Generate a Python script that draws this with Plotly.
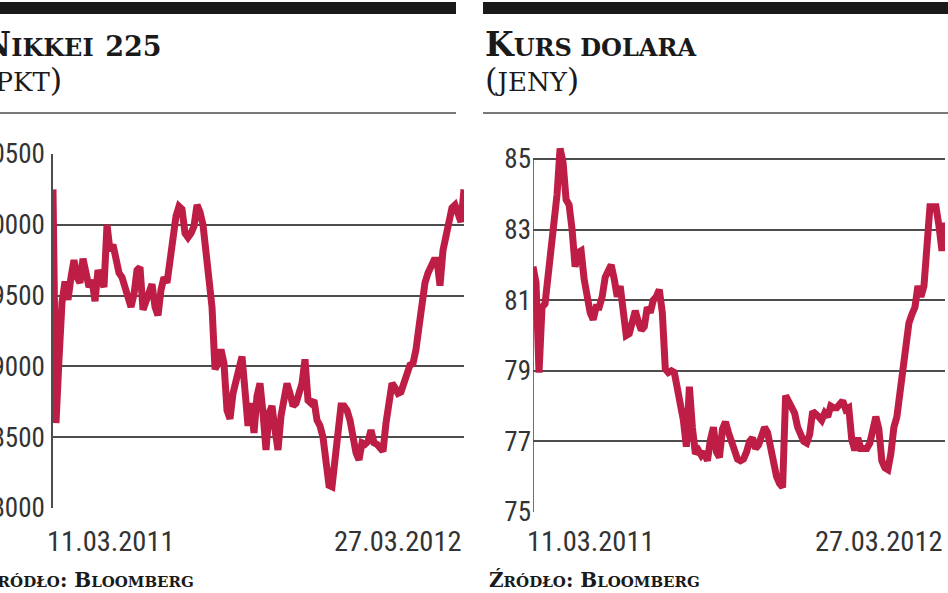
import pandas as pd
import plotly.graph_objects as go

start_label = "11.03.2011"
end_label = "27.03.2012"

nikkei = [
    10250, 8600, 9050, 9450, 9600, 9470, 9630, 9750, 9630, 9590,
    9760, 9680, 9560, 9610, 9460, 9680, 9630, 9560, 10000, 9820,
    9860, 9750, 9660, 9630, 9560, 9470, 9420, 9510, 9680, 9700,
    9400, 9460, 9540, 9580, 9420, 9360, 9540, 9630, 9590, 9780,
    9890, 10060, 10130, 10110, 9940, 9910,
    9940, 9990, 10140, 10090, 10000, 9820, 9630, 9420, 8980, 9020,
    9120, 9020, 8690, 8630, 8810, 8900, 9020, 9070, 8830, 8580,
    8740, 8530, 8790, 8880, 8670, 8410, 8670, 8720, 8550, 8410,
    8650, 8790, 8880, 8810, 8720, 8740, 8830, 8880, 9050, 8760,
    8740, 8760, 8620, 8580, 8500, 8320, 8160,
    8150, 8360, 8600, 8720, 8720, 8690, 8620, 8500, 8390, 8340,
    8460, 8450, 8470, 8550, 8460, 8450, 8430, 8400, 8600, 8760,
    8880, 8850, 8810, 8820, 8880, 8950, 9010, 9020, 9120, 9280,
    9470, 9590, 9660, 9700, 9750, 9750, 9570, 9820, 9930, 9990,
    10120, 10140, 10080, 10020, 10250,
]

usdjpy = [
    81.95, 81.5, 78.95, 80.8, 80.9, 81.6, 82.7, 83.2, 84.0, 85.3,
    84.9, 83.85, 83.7, 83.0, 81.95, 82.35, 82.4, 81.6, 81.1, 80.65,
    80.45, 80.8, 80.8, 81.1, 81.65, 81.85, 82.0, 81.6, 81.1, 81.4,
    80.55, 80.0, 80.05, 80.3, 80.7, 80.4, 80.15, 80.25, 80.8, 80.65,
    81.0, 81.1, 81.3, 80.65, 79.05, 78.95,
    79.0, 78.95, 78.5, 78.05, 77.6, 76.85, 78.55, 77.4, 76.65, 76.75,
    76.6, 76.7, 76.45, 77.05, 77.4, 76.7, 76.55, 77.35, 77.55, 77.25,
    76.95, 76.7, 76.5, 76.45, 76.5, 76.7, 77.0, 77.1, 76.8, 76.9,
    77.2, 77.4, 77.25, 76.75, 76.35, 76.0, 75.8, 75.7, 78.3, 78.15,
    78.05, 77.8, 77.4, 77.15, 77.0, 76.95,
    77.2, 77.85, 77.8, 77.7, 77.6, 77.8, 77.7, 78.0, 77.95, 77.95,
    78.05, 78.15, 77.9, 77.95, 77.05, 76.75, 77.1, 76.8, 76.8, 76.8,
    76.95, 77.35, 77.7, 77.35, 76.45, 76.25, 76.2, 76.65, 77.4, 77.7,
    78.35, 79.25, 79.9, 80.35, 80.6, 80.8, 81.4, 81.1, 81.4, 82.5,
    83.65, 83.65, 83.65, 83.1, 82.4, 83.2,
]

nikkei_ticks = [8000, 8500, 9000, 9500, 10000, 10500]
usd_ticks = [75, 77, 79, 81, 83, 85]

dates = pd.date_range("2011-03-11", "2012-03-27", periods=len(nikkei))

W, H = 948, 593
def px(x):
    return x / W
def py(y):
    return 1 - y / H

LINE = "#BE1E45"
GRID = "#4d4d4d"
NARROW = "Liberation Sans Narrow, Roboto Condensed, Roboto, sans-serif"
TICKFONT = dict(family=NARROW, size=27, color="#333333")
SERIF = "DejaVu Serif, serif"

fig = go.Figure()
fig.add_trace(go.Scatter(x=dates, y=nikkei, mode="lines", xaxis="x", yaxis="y",
                         line=dict(color=LINE, width=7), showlegend=False, hoverinfo="skip"))
fig.add_trace(go.Scatter(x=dates, y=usdjpy, mode="lines", xaxis="x2", yaxis="y2",
                         line=dict(color=LINE, width=7), showlegend=False, hoverinfo="skip"))

xcommon = dict(showgrid=False, showticklabels=False, zeroline=False, showline=False, ticks="",
               automargin=False)
ycommon = dict(showgrid=True, gridcolor=GRID, gridwidth=1.6, zeroline=False,
               ticks="", tickfont=TICKFONT, ticklabelstandoff=1, automargin=False)

usd_px_per_unit = (512 - 159) / 10
usd_top = 85.5
fig.update_layout(
    template="none",
    width=W, height=H,
    margin=dict(l=0, r=0, t=0, b=0, pad=0, autoexpand=False),
    paper_bgcolor="white", plot_bgcolor="white",
    xaxis=dict(domain=[px(53), px(464)], range=[dates[0], dates[-1]], anchor="y", **xcommon),
    yaxis=dict(domain=[py(508), py(154)], range=[8000, 10500], tickvals=nikkei_ticks,
               ticktext=[str(v) for v in nikkei_ticks], anchor="x", showline=True,
               linecolor=GRID, linewidth=1.6, **ycommon),
    xaxis2=dict(domain=[px(533), px(945)], range=[dates[0], dates[-1]], anchor="y2", **xcommon),
    yaxis2=dict(domain=[py(512), py(159 - (usd_top - 85) * usd_px_per_unit)], range=[75, usd_top],
                tickvals=usd_ticks, ticktext=[str(v) for v in usd_ticks], anchor="x2",
                showline=False, **ycommon),
)

shapes = []
shapes.append(dict(type="rect", xref="paper", yref="paper", x0=px(-5), x1=px(456), y0=py(14), y1=py(2),
                   fillcolor="#1a1a1a", line=dict(width=0)))
shapes.append(dict(type="rect", xref="paper", yref="paper", x0=px(483), x1=px(953), y0=py(14), y1=py(2),
                   fillcolor="#1a1a1a", line=dict(width=0)))
shapes.append(dict(type="line", xref="paper", yref="paper", x0=px(-5), x1=px(456), y0=py(113), y1=py(113),
                   line=dict(color=GRID, width=1.6)))
shapes.append(dict(type="line", xref="paper", yref="paper", x0=px(483), x1=px(953), y0=py(113), y1=py(113),
                   line=dict(color=GRID, width=1.6)))
shapes.append(dict(type="line", xref="x2", yref="y2", x0=dates[0], x1=dates[0], y0=usd_ticks[0], y1=usd_ticks[-1],
                   line=dict(color=GRID, width=1.6), layer="below"))
fig.update_layout(shapes=shapes)

ann = []
ann.append(dict(xref="paper", yref="paper", x=px(-21), y=py(44), xanchor="left", yanchor="middle",
                text="<b>N<span style='font-size:24px'>IKKEI</span> <span style='font-size:27px'>225</span></b>",
                showarrow=False, font=dict(family=SERIF, size=33, color="#1a1a1a")))
ann.append(dict(xref="paper", yref="paper", x=px(-19), y=py(80), xanchor="left", yanchor="middle",
                text="(<span style='font-size:26px'>PKT</span>)", showarrow=False,
                font=dict(family=SERIF, size=32, color="#1a1a1a")))
ann.append(dict(xref="paper", yref="paper", x=px(483), y=py(44), xanchor="left", yanchor="middle",
                text="<b>K<span style='font-size:24px'>URS DOLARA</span></b>", showarrow=False,
                font=dict(family=SERIF, size=33, color="#1a1a1a")))
ann.append(dict(xref="paper", yref="paper", x=px(483), y=py(80), xanchor="left", yanchor="middle",
                text="(<span style='font-size:26px'>JENY</span>)", showarrow=False,
                font=dict(family=SERIF, size=32, color="#1a1a1a")))
for x0 in (-19, 487):
    ann.append(dict(xref="paper", yref="paper", x=px(x0), y=py(580), xanchor="left", yanchor="middle",
                    text="<b>Ź<span style='font-size:15px'>RÓDŁO</span>: B<span style='font-size:15px'>LOOMBERG</span></b>",
                    showarrow=False, font=dict(family=SERIF, size=20, color="#1a1a1a")))
XFONT = dict(family=NARROW, size=28.5, color="#333333")
for xr in ("x", "x2"):
    ann.append(dict(xref=xr, yref="paper", x=dates[0], y=py(541), xanchor="left", yanchor="middle",
                    xshift=-8, text=start_label, showarrow=False, font=XFONT))
    ann.append(dict(xref=xr, yref="paper", x=dates[-1], y=py(541), xanchor="right", yanchor="middle",
                    text=end_label, showarrow=False, font=XFONT))
fig.update_layout(annotations=ann)

fig.write_html("out.html", config={"displayModeBar": False},
               post_script="document.body.style.margin='0';")
